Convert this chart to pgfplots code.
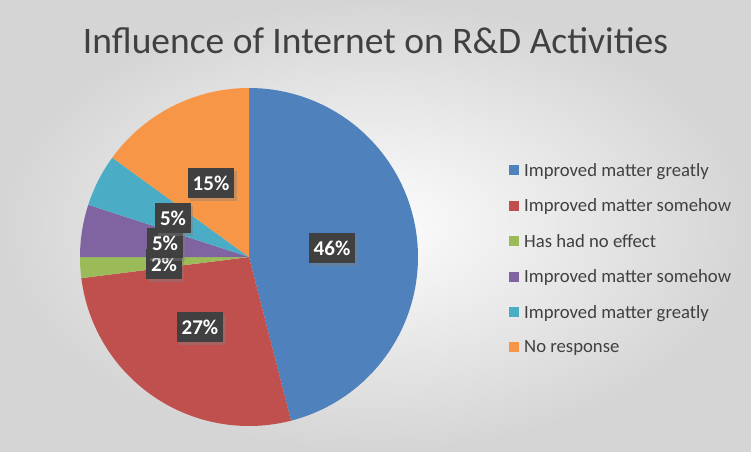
\documentclass[border=0pt]{standalone}
\usepackage{pgfplots}
\pgfplotsset{compat=1.18}
\usepackage{fontspec}
\setmainfont{Carlito}
\usetikzlibrary{shadows}
\definecolor{cBlue}{RGB}{79,129,189}
\definecolor{cRed}{RGB}{192,80,77}
\definecolor{cGreen}{RGB}{155,187,89}
\definecolor{cPurple}{RGB}{128,100,162}
\definecolor{cCyan}{RGB}{75,172,198}
\definecolor{cOrange}{RGB}{247,150,70}
\definecolor{lblgray}{RGB}{64,64,64}
\definecolor{txtgray}{RGB}{64,64,64}
\def\cx{249}\def\cy{194}\def\rr{169}
% slice values (percent), clockwise from 12 o'clock
\def\vA{46}\def\vB{27}\def\vC{2}\def\vD{5}\def\vE{5}\def\vF{15}
\newcommand\pieslice[4]{%
  \addplot[fill=#3, draw=none, domain=#2:#1, samples=90]
    ({\cx+\rr*cos(x)},{\cy+\rr*sin(x)}) -- (axis cs:\cx,\cy) -- cycle;
  \addlegendentry{#4}
}
\tikzset{lbl/.style={fill=lblgray, text=white, font=\bfseries\fontsize{21}{24}\selectfont,
    inner xsep=5pt, minimum height=30pt,
    drop shadow={shadow xshift=2.5pt, shadow yshift=-2.5pt, opacity=0.4}}}
\begin{document}
\begin{tikzpicture}[x=1pt,y=1pt]
\shade[inner color=gray!2, outer color=gray!33] (0,0) rectangle (751,451);
\pgfmathsetmacro\aA{90}
\pgfmathsetmacro\aB{\aA-3.6*\vA}
\pgfmathsetmacro\aC{\aB-3.6*\vB}
\pgfmathsetmacro\aD{\aC-3.6*\vC}
\pgfmathsetmacro\aE{\aD-3.6*\vD}
\pgfmathsetmacro\aF{\aE-3.6*\vE}
\pgfmathsetmacro\aG{\aF-3.6*\vF}
\begin{axis}[
  at={(0pt,0pt)}, anchor=south west,
  x=1pt, y=1pt, xmin=0, xmax=751, ymin=0, ymax=451,
  hide axis, clip=false,
  legend image code/.code={\fill[#1] (0pt,-5pt) rectangle (10pt,5pt);},
  legend cell align=left,
  legend style={at={(axis cs:506,291)}, anchor=north west, draw=none, fill=none,
    font=\fontsize{18.7}{21}\selectfont, text=txtgray, row sep=19pt,
    nodes={inner sep=1pt},
    /tikz/every odd column/.append style={column sep=4pt}},
]
\pieslice{\aA}{\aB}{cBlue}{Improved matter greatly}
\pieslice{\aB}{\aC}{cRed}{Improved matter somehow}
\pieslice{\aC}{\aD}{cGreen}{Has had no effect}
\pieslice{\aD}{\aE}{cPurple}{Improved matter somehow}
\pieslice{\aE}{\aF}{cCyan}{Improved matter greatly}
\pieslice{\aF}{\aG}{cOrange}{No response}
\node[lbl] at (axis cs:332,203) {46\%};
\node[lbl] at (axis cs:200,124) {27\%};
\node[lbl] at (axis cs:164,187) {2\%};
\node[lbl] at (axis cs:165,208) {5\%};
\node[lbl] at (axis cs:173,233) {5\%};
\node[lbl] at (axis cs:211,268) {15\%};
\node[anchor=base, text=txtgray, font=\fontsize{37.5}{42}\selectfont] at (axis cs:375.5,398) {Influence of Internet on R\&D Activities};
\end{axis}
\end{tikzpicture}
\end{document}
